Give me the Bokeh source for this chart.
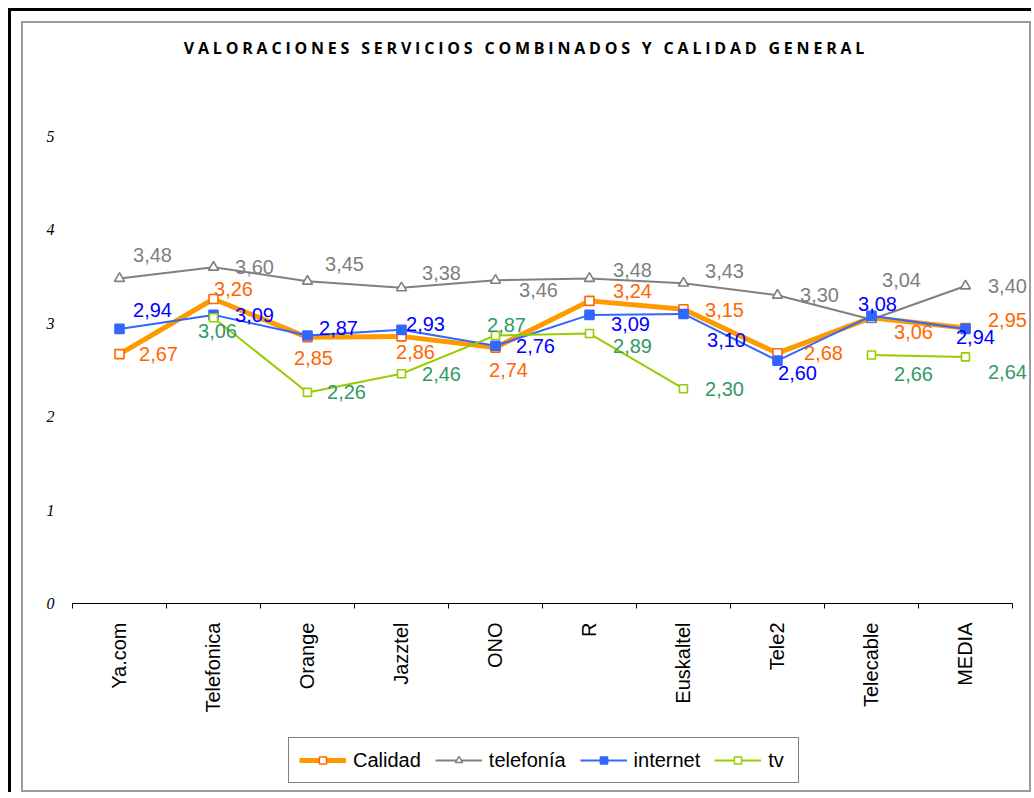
import math
from bokeh.plotting import figure
from bokeh.models import Range1d, FixedTicker, Legend, LegendItem, Div
from bokeh.layouts import column
from bokeh.embed import file_html
from bokeh.resources import INLINE
from bokeh.core.properties import value

# ---------------- data ----------------
categories = ["Ya.com", "Telefonica", "Orange", "Jazztel", "ONO", "R",
              "Euskaltel", "Tele2", "Telecable", "MEDIA"]
calidad = [2.67, 3.26, 2.85, 2.86, 2.74, 3.24, 3.15, 2.68, 3.06, 2.95]
telefonia = [3.48, 3.60, 3.45, 3.38, 3.46, 3.48, 3.43, 3.30, 3.04, 3.40]
internet = [2.94, 3.09, 2.87, 2.93, 2.76, 3.09, 3.10, 2.60, 3.08, 2.94]
tv = [None, 3.06, 2.26, 2.46, 2.87, 2.89, 2.30, None, 2.66, 2.64]
y_ticks = [0, 1, 2, 3, 4, 5]
title_text = "VALORACIONES SERVICIOS COMBINADOS Y CALIDAD GENERAL"
series_names = ["Calidad", "telefonía", "internet", "tv"]

# label offsets in screen pixels (dx, dy; dy positive = down)
off_calidad = [(39, 0), (20, -10), (6, 21), (14, 16), (13, 22), (43, -10),
               (41, 1), (46, 0), (42, 14), (42, -8)]
off_telefonia = [(33, -23), (41, 0), (37, -17), (40, -15), (43, 10), (43, -8),
                 (41, -12), (42, 0), (30, -40), (42, 0)]
off_internet = [(33, -19), (41, 0), (31, -7), (24, -6), (40, 0), (41, 9),
                (43, 26), (20, 12), (6, -12), (10, 8)]
off_tv = [(0, 0), (4, 13), (39, 0), (40, 0), (11, -10), (43, 12),
          (41, 0), (0, 0), (42, 19), (42, 15)]

specs = [
    # values, offsets, line color, line width, marker, marker line, marker fill, size, label color
    (calidad, off_calidad, "#FF9900", 5, "square", "#FF6600", "white", 9, "#FF6600"),
    (telefonia, off_telefonia, "#808080", 2, "triangle", "#808080", "white", 10, "#808080"),
    (internet, off_internet, "#3366FF", 2, "square", "#3366FF", "#3366FF", 9, "#0000FF"),
    (tv, off_tv, "#99CC00", 2, "square", "#99CC00", "white", 8, "#339966"),
]


def nanify(vals):
    return [float("nan") if v is None else v for v in vals]


# ---------------- main figure ----------------
n = len(categories)
xs = [i + 0.5 for i in range(n)]

# a little extra room on the right so the last data labels are not clipped
p = figure(width=1006, height=635, x_range=Range1d(0, n + 0.16),
           y_range=Range1d(y_ticks[0], y_ticks[-1]),
           output_backend="svg", toolbar_location=None,
           min_border_left=49, min_border_right=2,
           min_border_top=53, min_border_bottom=115)
p.title.visible = False
p.grid.visible = False
p.outline_line_color = None
p.background_fill_color = "white"
p.border_fill_color = "white"

xa = p.xaxis[0]
xa.ticker = FixedTicker(ticks=xs, minor_ticks=list(range(n + 1)))
xa.bounds = (0, n)
xa.major_label_overrides = {x: c for x, c in zip(xs, categories)}
xa.major_label_orientation = math.pi / 2
xa.major_tick_in = 0
xa.major_tick_out = 0
xa.minor_tick_in = 0
xa.minor_tick_out = 5
xa.minor_tick_line_color = "black"
xa.axis_line_color = "black"
xa.major_label_standoff = 14
xa.major_label_text_font = "Liberation Sans"
xa.major_label_text_font_size = "20px"
xa.major_label_text_color = "black"

ya = p.yaxis[0]
ya.ticker = FixedTicker(ticks=y_ticks)
ya.axis_line_color = None
ya.major_tick_in = 0
ya.major_tick_out = 0
ya.minor_tick_in = 0
ya.minor_tick_out = 0
ya.major_label_standoff = 18
ya.major_label_text_font = "Liberation Serif"
ya.major_label_text_font_style = "italic"
ya.major_label_text_font_size = "16px"
ya.major_label_text_color = "black"

label_jobs = []
for name, (vals, offs, lc, lw, mk, mlc, mfc, ms, tc) in zip(series_names, specs):
    p.line(xs, nanify(vals), line_color=lc, line_width=lw)
    px = [x for x, v in zip(xs, vals) if v is not None]
    py = [v for v in vals if v is not None]
    p.scatter(px, py, marker=mk, size=ms, line_color=mlc,
              fill_color=mfc, line_width=1.6)
    dx = [o[0] for o, v in zip(offs, vals) if v is not None]
    dy = [o[1] for o, v in zip(offs, vals) if v is not None]
    txt = [f"{v:.2f}".replace(".", ",") for v in py]
    label_jobs.append((px, py, txt, dx, dy, tc))

for px, py, txt, dx, dy, tc in label_jobs:
    p.text(x=px, y=py, text=txt, x_offset=dx, y_offset=dy, text_color=tc,
           text_font=value("Liberation Sans"), text_font_size="20px",
           text_align="center", text_baseline="middle")

# ---------------- legend strip (series drawn out of view, legend only) ----------------
pl = figure(width=1006, height=72, x_range=Range1d(0, n),
            y_range=Range1d(-2, -1),
            output_backend="svg", toolbar_location=None,
            min_border_left=0, min_border_right=0,
            min_border_top=0, min_border_bottom=0)
pl.title.visible = False
pl.axis.visible = False
pl.grid.visible = False
pl.outline_line_color = None
pl.background_fill_color = "white"
pl.border_fill_color = "white"

legend_items = []
for name, (vals, offs, lc, lw, mk, mlc, mfc, ms, tc) in zip(series_names, specs):
    ln = pl.line(xs, nanify(vals), line_color=lc, line_width=lw)
    px = [x for x, v in zip(xs, vals) if v is not None]
    py = [v for v in vals if v is not None]
    sc = pl.scatter(px, py, marker=mk, size=7, line_color=mlc,
                    fill_color=mfc, line_width=1.5)
    legend_items.append(LegendItem(label=name, renderers=[ln, sc]))

legend = Legend(items=legend_items, orientation="horizontal",
                location=(216, 7), margin=0,
                border_line_color="black", border_line_width=1,
                background_fill_color="white", background_fill_alpha=1.0,
                label_text_font="Liberation Sans", label_text_font_size="20px",
                label_text_color="black", glyph_width=47, glyph_height=18,
                label_height=24, label_standoff=7, spacing=14, padding=10)
pl.add_layout(legend, "center")

title = Div(text=('<div style="font-family:\'Open Sans\';font-weight:bold;'
                  'font-size:16px;letter-spacing:3.8px;text-align:center;'
                  'line-height:20px;padding-top:15px;width:1006px;color:black;">'
                  + title_text + '</div>'),
            width=1006, height=60, margin=0)

inner = column(title, p, pl, styles={"border": "2px solid #9c9c9c",
                                     "background-color": "white", "gap": "0px"})
layout = column(inner, styles={"border-top": "3px solid black",
                               "border-left": "3px solid black",
                               "padding": "10px 0 0 10px",
                               "margin": "8px 0 0 8px"})

open("out.html", "w").write(file_html(layout, INLINE))
